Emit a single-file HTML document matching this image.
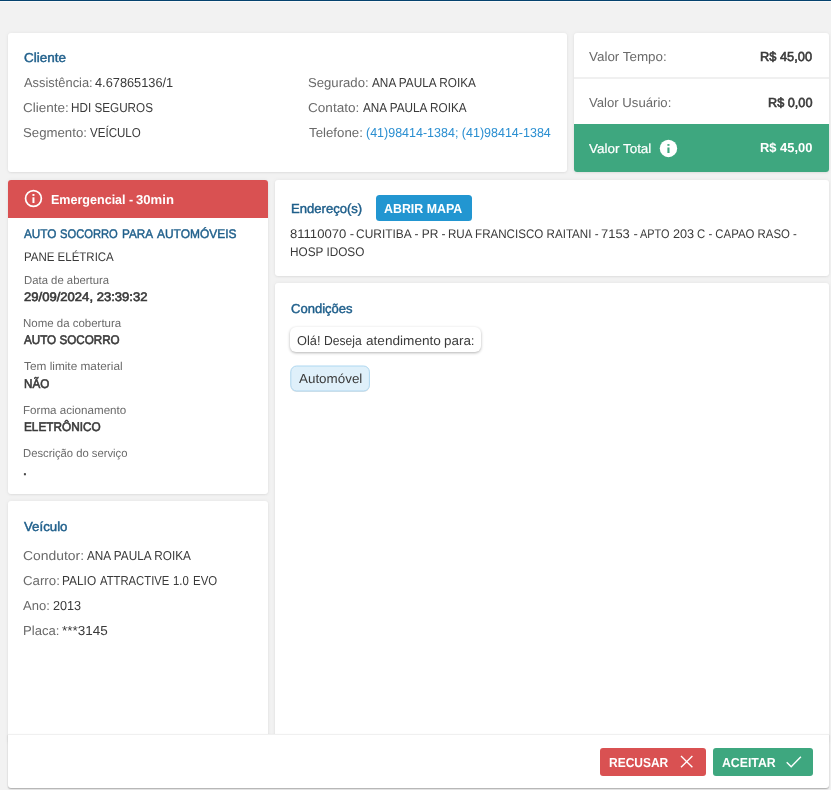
<!DOCTYPE html>
<html lang="pt-BR">
<head>
<meta charset="utf-8">
<title>Assistência</title>
<style>
*{box-sizing:border-box;margin:0;padding:0}
html,body{width:831px;height:790px;overflow:hidden}
body{background:#f2f2f2;font-family:"Liberation Sans",sans-serif;font-size:13px;color:#3a3a3a;position:relative}
.topbar{position:absolute;left:0;top:0;width:831px;height:2px;background:#fafafa;border-top:1px solid #05436f}
.card{position:absolute;background:#fff;border-radius:3px;box-shadow:0 0 4px rgba(0,0,0,.06),0 1px 2px rgba(0,0,0,.05)}
.box{position:absolute}
.t{position:absolute;white-space:nowrap;text-rendering:geometricPrecision;line-height:16px;height:16px;transform-origin:0 0;display:block}
svg{position:absolute;overflow:visible}
</style>
</head>
<body>
<div class="topbar"></div>

<!-- Cliente -->
<div class="card" style="left:8px;top:33px;width:559px;height:139px"></div>

<!-- Valores -->
<div class="card" style="left:574px;top:33px;width:255px;height:139px;overflow:hidden">
  <div class="box" style="left:0;top:44px;width:255px;height:2px;background:#f0f0f0"></div>
  <div class="box" style="left:0;top:91px;width:255px;height:48px;background:#3ea77f"></div>
</div>
<svg style="left:659px;top:139px" width="19" height="19" viewBox="0 0 19 19"><circle cx="9.45" cy="9.45" r="8.7" fill="#fff"/><rect x="8.4" y="5.1" width="2.1" height="1.7" fill="#3ea77f"/><rect x="8.4" y="8.5" width="2.1" height="5.5" fill="#3ea77f"/></svg>

<!-- Serviço -->
<div class="card" style="left:8px;top:180px;width:260px;height:314px;overflow:hidden">
  <div class="box" style="left:0;top:0;width:260px;height:38px;background:#d95152"></div>
</div>
<svg style="left:24px;top:189px" width="19" height="19" viewBox="0 0 19 19"><circle cx="9.45" cy="9.45" r="7.9" fill="none" stroke="#fff" stroke-width="1.7"/><rect x="8.45" y="5" width="2" height="1.9" fill="#fff"/><rect x="8.45" y="8.3" width="2" height="5.7" fill="#fff"/></svg>

<!-- Endereço -->
<div class="card" style="left:275px;top:180px;width:554px;height:96px"></div>
<div class="box" style="left:376px;top:195px;width:96px;height:26px;background:#2296d1;border-radius:3.5px"></div>

<!-- Condições -->
<div class="card" style="left:275px;top:283px;width:554px;height:460px"></div>
<div class="box" style="left:290px;top:327px;width:191px;height:25px;border-radius:6px;background:#fff;box-shadow:0 1px 3px rgba(0,0,0,.3)"></div>
<svg style="left:285px;top:360px" width="92" height="38" viewBox="0 0 92 38"><rect x="5.6" y="6.3" width="79" height="25.6" rx="6" fill="#000" opacity=".10"/><rect x="5.8" y="6" width="78.6" height="25" rx="5.8" fill="#dff0fa" stroke="#aed7f0" stroke-width="1"/></svg>

<!-- Veículo -->
<div class="card" style="left:8px;top:501px;width:260px;height:242px"></div>

<!-- Rodapé -->
<div class="box" style="left:8px;top:734px;width:821px;height:54px;background:#fff;border-top:1px solid #f0f0f0;border-radius:0 0 3px 3px;box-shadow:0 1px 1.5px rgba(0,0,0,.3)"></div>
<div class="box" style="left:600px;top:748px;width:106px;height:27.5px;background:#d95152;border-radius:3px"></div>
<svg style="left:680px;top:755px" width="14" height="14" viewBox="0 0 14 14"><path d="M1 1.1 L12.4 12.3 M12.4 1.1 L1 12.3" stroke="#fff" stroke-width="1.35" fill="none"/></svg>
<div class="box" style="left:713px;top:748px;width:100px;height:27.5px;background:#3ea77f;border-radius:3px"></div>
<svg style="left:786px;top:756px" width="16" height="12" viewBox="0 0 16 12"><path d="M0.7 6.2 L5.2 10.7 L14.9 0.7" stroke="#fff" stroke-width="1.4" fill="none"/></svg>

<section aria-label="Cliente">
  <span class="t" id="c0" style="left:23.79px;top:50px;font-size:13px;font-weight:normal;-webkit-text-stroke:0.45px #1f5f8b;color:#1f5f8b;transform:scaleX(1.0374)">Cliente</span>
  <span class="t" id="c1" style="left:23.70px;top:75px;font-size:13px;color:#6a6a6a;transform:scaleX(0.9905)">Assistência:</span>
  <span class="t" id="c2" style="left:94.52px;top:75px;font-size:13px;color:#3a3a3a;transform:scaleX(0.9834)">4.67865136/1</span>
  <span class="t" id="c3" style="left:23.44px;top:100px;font-size:13px;color:#6a6a6a;transform:scaleX(1.0394)">Cliente:</span>
  <span class="t" id="c4" style="left:71.09px;top:100px;font-size:13px;color:#3a3a3a;transform:scaleX(0.9006)">HDI SEGUROS</span>
  <span class="t" id="c5" style="left:23.24px;top:125px;font-size:13px;color:#6a6a6a;transform:scaleX(1.0164)">Segmento:</span>
  <span class="t" id="c6" style="left:89.93px;top:125px;font-size:13px;color:#3a3a3a;transform:scaleX(0.8893)">VEÍCULO</span>
  <span class="t" id="c7" style="left:308.24px;top:75px;font-size:13px;color:#6a6a6a;transform:scaleX(1.0103)">Segurado:</span>
  <span class="t" id="c8" style="left:371.68px;top:75px;font-size:13px;color:#3a3a3a;transform:scaleX(0.9068)">ANA PAULA ROIKA</span>
  <span class="t" id="c9" style="left:308.22px;top:100px;font-size:13px;color:#6a6a6a;transform:scaleX(1.0434)">Contato:</span>
  <span class="t" id="c10" style="left:362.84px;top:100px;font-size:13px;color:#3a3a3a;transform:scaleX(0.9034)">ANA PAULA ROIKA</span>
  <span class="t" id="c11" style="left:309.24px;top:125px;font-size:13px;color:#6a6a6a;transform:scaleX(1.0205)">Telefone:</span>
  <a class="t" id="c12" style="left:365.65px;top:125px;font-size:13px;color:#2b8fd1;transform:scaleX(0.9611)">(41)98414-1384; (41)98414-1384</a>
</section>
<section aria-label="Valores">
  <span class="t" id="v0" style="left:589.14px;top:49px;font-size:13px;color:#6a6a6a;transform:scaleX(1.0311)">Valor Tempo:</span>
  <span class="t" id="v1" style="left:760.36px;top:49px;font-size:13px;font-weight:normal;-webkit-text-stroke:0.6px #3a3a3a;color:#3a3a3a;transform:scaleX(0.9874)">R$ 45,00</span>
  <span class="t" id="v2" style="left:589.15px;top:95px;font-size:13px;color:#6a6a6a;transform:scaleX(1.0112)">Valor Usuário:</span>
  <span class="t" id="v3" style="left:767.67px;top:95px;font-size:13px;font-weight:normal;-webkit-text-stroke:0.6px #3a3a3a;color:#3a3a3a;transform:scaleX(0.9766)">R$ 0,00</span>
  <span class="t" id="v4" style="left:589.40px;top:141px;font-size:13px;font-weight:normal;-webkit-text-stroke:0.2px #ffffff;color:#ffffff;transform:scaleX(1.0353)">Valor Total</span>
  <span class="t" id="v5" style="left:760.36px;top:140px;font-size:13px;font-weight:bold;color:#ffffff;transform:scaleX(0.9922)">R$ 45,00</span>
</section>
<section aria-label="Serviço">
  <span class="t" id="s0a" style="left:51.08px;top:192px;font-size:13px;font-weight:bold;color:#ffffff;transform:scaleX(0.9646)">Emergencial -</span>
  <span class="t" id="s0b" style="left:136.10px;top:192px;font-size:13px;font-weight:bold;color:#ffffff;transform:scaleX(1.0083)">30min</span>
  <span class="t" id="s1a" style="left:23.64px;top:226px;font-size:12.5px;font-weight:normal;-webkit-text-stroke:0.45px #1f5f8b;color:#1f5f8b;transform:scaleX(0.9426)">AUTO</span>
  <span class="t" id="s1b" style="left:60.25px;top:226px;font-size:12.5px;font-weight:normal;-webkit-text-stroke:0.45px #1f5f8b;color:#1f5f8b;transform:scaleX(0.8942)">SOCORRO</span>
  <span class="t" id="s1c" style="left:121.57px;top:226px;font-size:12.5px;font-weight:normal;-webkit-text-stroke:0.45px #1f5f8b;color:#1f5f8b;transform:scaleX(0.9393)">PARA</span>
  <span class="t" id="s1d" style="left:156.83px;top:226px;font-size:12.5px;font-weight:normal;-webkit-text-stroke:0.45px #1f5f8b;color:#1f5f8b;transform:scaleX(0.9558)">AUTOMÓVEIS</span>
  <span class="t" id="s2" style="left:23.76px;top:249px;font-size:12.5px;color:#3a3a3a;transform:scaleX(0.9188)">PANE ELÉTRICA</span>
  <span class="t" id="s3" style="left:23.72px;top:273px;font-size:11.5px;color:#6a6a6a;transform:scaleX(0.9855)">Data de abertura</span>
  <span class="t" id="s4" style="left:23.90px;top:289px;font-size:12.5px;font-weight:normal;-webkit-text-stroke:0.6px #3a3a3a;color:#3a3a3a;transform:scaleX(1.0451)">29/09/2024, 23:39:32</span>
  <span class="t" id="s5" style="left:23.17px;top:316px;font-size:11.5px;color:#6a6a6a;transform:scaleX(0.9976)">Nome da cobertura</span>
  <span class="t" id="s6" style="left:23.54px;top:332px;font-size:12.5px;font-weight:normal;-webkit-text-stroke:0.6px #3a3a3a;color:#3a3a3a;transform:scaleX(0.9323)">AUTO SOCORRO</span>
  <span class="t" id="s7" style="left:24.03px;top:359px;font-size:11.5px;color:#6a6a6a;transform:scaleX(1.0285)">Tem limite material</span>
  <span class="t" id="s8" style="left:23.82px;top:376px;font-size:12.5px;font-weight:normal;-webkit-text-stroke:0.6px #3a3a3a;color:#3a3a3a;transform:scaleX(0.9336)">NÃO</span>
  <span class="t" id="s9" style="left:23.39px;top:403px;font-size:11.5px;color:#6a6a6a;transform:scaleX(1.0094)">Forma acionamento</span>
  <span class="t" id="s10" style="left:23.59px;top:419px;font-size:12.5px;font-weight:normal;-webkit-text-stroke:0.6px #3a3a3a;color:#3a3a3a;transform:scaleX(0.9438)">ELETRÔNICO</span>
  <span class="t" id="s11" style="left:23.42px;top:446px;font-size:11.5px;color:#6a6a6a;transform:scaleX(0.9786)">Descrição do serviço</span>
  <span class="t" id="s12" style="left:23.48px;top:463px;font-size:12.5px;font-weight:normal;-webkit-text-stroke:0.6px #3a3a3a;color:#3a3a3a;transform:scaleX(1.1000)">.</span>
</section>
<section aria-label="Endereço">
  <span class="t" id="a0" style="left:290.57px;top:201px;font-size:13px;font-weight:normal;-webkit-text-stroke:0.45px #1f5f8b;color:#1f5f8b;transform:scaleX(1.0057)">Endereço(s)</span>
  <span class="t" id="a1" style="left:384.09px;top:201px;font-size:13px;font-weight:bold;color:#ffffff;transform:scaleX(0.9528)">ABRIR MAPA</span>
  <span class="t" id="a2a" style="left:290.38px;top:226px;font-size:12.5px;color:#3a3a3a;transform:scaleX(1.0456)">81110070 -</span>
  <span class="t" id="a2b" style="left:356.18px;top:226px;font-size:12.5px;color:#3a3a3a;transform:scaleX(0.9557)">CURITIBA - PR -</span>
  <span class="t" id="a2c" style="left:448.47px;top:226px;font-size:12.5px;color:#3a3a3a;transform:scaleX(0.9275)">RUA FRANCISCO RAITANI -</span>
  <span class="t" id="a2d" style="left:601.32px;top:226px;font-size:12.5px;color:#3a3a3a;transform:scaleX(1.0353)">7153 -</span>
  <span class="t" id="a2e" style="left:639.80px;top:226px;font-size:12.5px;color:#3a3a3a;transform:scaleX(0.8722)">APTO</span>
  <span class="t" id="a2f" style="left:672.80px;top:226px;font-size:12.5px;color:#3a3a3a;transform:scaleX(1.0152)">203</span>
  <span class="t" id="a2g" style="left:697.00px;top:226px;font-size:12.5px;color:#3a3a3a;transform:scaleX(0.9115)">C - CAPAO RASO -</span>
  <span class="t" id="a3" style="left:290.46px;top:244px;font-size:12.5px;color:#3a3a3a;transform:scaleX(0.9419)">HOSP IDOSO</span>
</section>
<section aria-label="Condições">
  <span class="t" id="k0" style="left:290.87px;top:301px;font-size:13px;font-weight:normal;-webkit-text-stroke:0.45px #1f5f8b;color:#1f5f8b;transform:scaleX(1.0019)">Condições</span>
  <span class="t" id="k1a" style="left:297.38px;top:333px;font-size:13px;color:#3a3a3a;transform:scaleX(0.9833)">Olá!</span>
  <span class="t" id="k1b" style="left:323.97px;top:333px;font-size:13px;color:#3a3a3a;transform:scaleX(0.9316)">Deseja</span>
  <span class="t" id="k1c" style="left:365.94px;top:333px;font-size:13px;color:#3a3a3a;transform:scaleX(1.0468)">atendimento</span>
  <span class="t" id="k1d" style="left:444.23px;top:333px;font-size:13px;color:#3a3a3a;transform:scaleX(1.0325)">para:</span>
  <span class="t" id="k2" style="left:298.55px;top:371px;font-size:13px;color:#3a3a3a;transform:scaleX(1.0313)">Automóvel</span>
</section>
<section aria-label="Veículo">
  <span class="t" id="e0" style="left:23.50px;top:519px;font-size:13px;font-weight:normal;-webkit-text-stroke:0.45px #1f5f8b;color:#1f5f8b;transform:scaleX(1.0200)">Veículo</span>
  <span class="t" id="e1" style="left:22.73px;top:548px;font-size:13px;color:#6a6a6a;transform:scaleX(1.0704)">Condutor:</span>
  <span class="t" id="e2" style="left:86.70px;top:548px;font-size:13px;color:#3a3a3a;transform:scaleX(0.9066)">ANA PAULA ROIKA</span>
  <span class="t" id="e3" style="left:22.81px;top:573px;font-size:13px;color:#6a6a6a;transform:scaleX(1.0196)">Carro:</span>
  <span class="t" id="e4a" style="left:62.08px;top:573px;font-size:13px;color:#3a3a3a;transform:scaleX(0.9141)">PALIO</span>
  <span class="t" id="e4b" style="left:100.40px;top:573px;font-size:13px;color:#3a3a3a;transform:scaleX(0.8669)">ATTRACTIVE</span>
  <span class="t" id="e4c" style="left:173.33px;top:573px;font-size:13px;color:#3a3a3a;transform:scaleX(0.8727)">1.0</span>
  <span class="t" id="e4d" style="left:192.75px;top:573px;font-size:13px;color:#3a3a3a;transform:scaleX(0.8801)">EVO</span>
  <span class="t" id="e5" style="left:23.49px;top:598px;font-size:13px;color:#6a6a6a;transform:scaleX(1.0010)">Ano:</span>
  <span class="t" id="e6" style="left:52.67px;top:598px;font-size:13px;color:#3a3a3a;transform:scaleX(0.9739)">2013</span>
  <span class="t" id="e7" style="left:23.41px;top:623px;font-size:13px;color:#6a6a6a;transform:scaleX(1.0073)">Placa:</span>
  <span class="t" id="e8" style="left:62.27px;top:623px;font-size:13px;color:#3a3a3a;transform:scaleX(1.0367)">***3145</span>
</section>
<section aria-label="Ações">
  <span class="t" id="f0" style="left:608.91px;top:755px;font-size:13px;font-weight:bold;color:#ffffff;transform:scaleX(0.9217)">RECUSAR</span>
  <span class="t" id="f1" style="left:721.86px;top:755px;font-size:13px;font-weight:bold;color:#ffffff;transform:scaleX(0.9440)">ACEITAR</span>
</section>
</body>
</html>
